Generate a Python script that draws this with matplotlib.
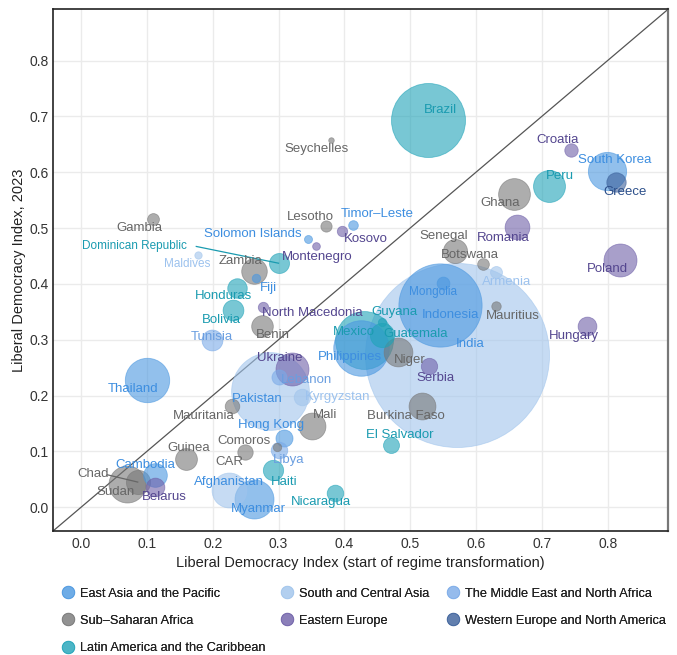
import numpy as np
import matplotlib
matplotlib.use("Agg")
from matplotlib import pyplot as plt
from matplotlib.lines import Line2D
from matplotlib.colors import to_rgba

plt.rcParams['font.family'] = ['Liberation Sans', 'DejaVu Sans']

# regions, in legend order
regions = ['East Asia and the Pacific', 'South and Central Asia', 'The Middle East and North Africa',
           'Sub\u2013Saharan Africa', 'Eastern Europe', 'Western Europe and North America',
           'Latin America and the Caribbean']
region_fill = ['#4a97e0', '#a0c4ec', '#7aaae8', '#777777', '#6e5fa8', '#3a5f9a', '#1fa3b8']
region_text = ['#3d8ee0', '#9cc2ee', '#6a9ee0', '#666666', '#54468f', '#2c4f8a', '#1a9bb0']

# country data: region index, LDI at start, LDI 2023, population (millions)
countries = ['Brazil', 'Seychelles', 'Gambia', 'Lesotho', 'Timor\u2013Leste', 'Kosovo', 'Solomon Islands',
             'Montenegro', 'Maldives', 'Dominican Republic', 'Zambia', 'Fiji', 'Honduras', 'Croatia',
             'South Korea', 'Greece', 'Peru', 'Ghana', 'Romania', 'Senegal', 'Botswana', 'Armenia',
             'Poland', 'Mongolia', 'Indonesia', 'India', 'Mauritius', 'Hungary', 'Guyana', 'Guatemala',
             'Mexico', 'Philippines', 'Niger', 'Serbia', 'Burkina Faso', 'El Salvador', 'Nicaragua',
             'Mali', 'Kyrgyzstan', 'Bolivia', 'North Macedonia', 'Benin', 'Tunisia', 'Thailand',
             'Pakistan', 'Ukraine', 'Lebanon', 'Mauritania', 'Hong Kong', 'CAR', 'Comoros', 'Libya',
             'Guinea', 'Cambodia', 'Chad', 'Sudan', 'Belarus', 'Afghanistan', 'Myanmar', 'Haiti']
region_idx = [6, 3, 3, 3, 0, 4, 0,
              4, 1, 6, 3, 0, 6, 4,
              0, 5, 6, 3, 4, 3, 3, 1,
              4, 0, 0, 1, 3, 4, 6, 6,
              6, 0, 3, 4, 3, 6, 6,
              3, 1, 6, 4, 3, 2, 0,
              1, 4, 2, 3, 0, 3, 3, 2,
              3, 0, 3, 3, 4, 1, 0, 6]
ldi_start = [0.527, 0.379, 0.109, 0.372, 0.413, 0.397, 0.345,
             0.357, 0.178, 0.300, 0.263, 0.266, 0.237, 0.744,
             0.799, 0.813, 0.711, 0.657, 0.662, 0.568, 0.610, 0.631,
             0.819, 0.550, 0.546, 0.571, 0.630, 0.769, 0.457, 0.457,
             0.430, 0.426, 0.482, 0.528, 0.518, 0.471, 0.386,
             0.351, 0.336, 0.231, 0.276, 0.275, 0.199, 0.100,
             0.287, 0.321, 0.300, 0.229, 0.309, 0.249, 0.298, 0.300,
             0.160, 0.112, 0.086, 0.069, 0.112, 0.224, 0.262, 0.291]
ldi_2023 = [0.693, 0.658, 0.516, 0.503, 0.506, 0.494, 0.481,
            0.467, 0.452, 0.437, 0.423, 0.410, 0.393, 0.639,
            0.603, 0.583, 0.576, 0.561, 0.501, 0.459, 0.435, 0.422,
            0.443, 0.401, 0.362, 0.272, 0.360, 0.324, 0.332, 0.308,
            0.299, 0.285, 0.278, 0.252, 0.181, 0.111, 0.026,
            0.146, 0.197, 0.353, 0.358, 0.325, 0.300, 0.227,
            0.209, 0.248, 0.234, 0.182, 0.124, 0.099, 0.108, 0.102,
            0.087, 0.057, 0.045, 0.042, 0.036, 0.030, 0.015, 0.066]
population = [216, 0.1, 2.7, 2.3, 1.4, 1.8, 0.7,
              0.6, 0.5, 11.3, 20.5, 0.9, 10.6, 3.9,
              51.7, 10.4, 34.4, 34, 19, 17.8, 2.6, 2.8,
              37, 3.4, 277, 1430, 1.3, 9.6, 0.8, 18,
              128, 117, 27, 6.7, 23, 6.3, 7,
              23, 7, 12.4, 1.8, 13.7, 12.5, 72,
              240, 37, 5.4, 4.9, 7.5, 5.7, 0.85, 6.9,
              14, 17, 18, 48, 9.5, 42, 54, 11.7]

# label placement (data coords)
label_x = [0.546, 0.357, 0.088, 0.348, 0.450, 0.433, 0.261,
           0.358, 0.161, 0.081, 0.242, 0.285, 0.216, 0.724,
           0.810, 0.827, 0.727, 0.637, 0.642, 0.551, 0.590, 0.647,
           0.799, 0.535, 0.561, 0.591, 0.656, 0.748, 0.476, 0.508,
           0.414, 0.409, 0.499, 0.538, 0.494, 0.484, 0.364,
           0.371, 0.389, 0.213, 0.351, 0.291, 0.198, 0.079,
           0.267, 0.302, 0.343, 0.187, 0.288, 0.226, 0.248, 0.315,
           0.164, 0.097, 0.018, 0.053, 0.127, 0.224, 0.269, 0.309]
label_y = [0.711, 0.642, 0.500, 0.520, 0.525, 0.480, 0.489,
           0.449, 0.435, 0.468, 0.441, 0.393, 0.378, 0.657,
           0.622, 0.565, 0.594, 0.545, 0.483, 0.485, 0.452, 0.404,
           0.426, 0.386, 0.344, 0.293, 0.343, 0.306, 0.349, 0.311,
           0.314, 0.269, 0.263, 0.232, 0.163, 0.129, 0.010,
           0.166, 0.197, 0.336, 0.348, 0.308, 0.304, 0.211,
           0.194, 0.267, 0.227, 0.163, 0.148, 0.081, 0.118, 0.084,
           0.106, 0.075, 0.060, 0.027, 0.018, 0.046, -0.004, 0.046]
dark_label = {'Pakistan', 'Afghanistan', 'India'}
small_font = {'Mongolia', 'Maldives', 'Dominican Republic'}
leader = {'Dominican Republic': (0.175, 0.467), 'Chad': (0.040, 0.058)}

fig = plt.figure(figsize=(6.77, 6.55), dpi=100)
ax = fig.add_axes([0.078, 0.189, 0.909, 0.797])

lim = (-0.043, 0.892)
ax.set_xlim(lim)
ax.set_ylim(lim)
ax.plot(lim, lim, color='#555555', lw=0.9, zorder=1)

pop = np.array(population)
r_px = 2 + 2.38 * np.sqrt(pop)
sizes = (2 * r_px * 0.72) ** 2
order = np.argsort(-pop)
for i in order:
    c = region_fill[region_idx[i]]
    ax.scatter(ldi_start[i], ldi_2023[i], s=sizes[i], color=c, alpha=0.6,
               edgecolors=c, linewidths=0.6, zorder=2)

for i, name in enumerate(countries):
    col = region_text[region_idx[i]]
    if name in dark_label:
        col = region_text[0]
    fs = 8.5 if name in small_font else 9.5
    ax.text(label_x[i], label_y[i], name, color=col, fontsize=fs,
            ha='center', va='center', zorder=4)
    if name in leader:
        lx, ly = leader[name]
        ax.plot([lx, ldi_start[i]], [ly, ldi_2023[i]], color=col, lw=0.9, zorder=3)

ticks = np.arange(0, 0.81, 0.1)
ax.set_xticks(ticks)
ax.set_yticks(ticks)
ax.set_xticklabels([f'{t:.1f}' for t in ticks])
ax.set_yticklabels([f'{t:.1f}' for t in ticks])
ax.tick_params(length=0, labelsize=10, labelcolor='#333333', pad=4)
ax.tick_params(axis='y', pad=3)
ax.grid(True, color='#ebebeb', lw=1.0)
ax.set_axisbelow(True)
for s in ['left', 'bottom', 'top']:
    ax.spines[s].set_color('#222222')
    ax.spines[s].set_linewidth(1.2)
ax.spines['right'].set_color('#777777')
ax.spines['right'].set_linewidth(1.6)

ax.set_xlabel('Liberal Democracy Index (start of regime transformation)', fontsize=10.5, color='#222222', labelpad=4)
ax.set_ylabel('Liberal Democracy Index, 2023', fontsize=10.5, color='#222222', labelpad=2)

# legend: one column legend per column position, filled row by row
leg_cols = [[0, 3, 6], [1, 4], [2, 5]]
col_x = [0.091, 0.415, 0.659]
for cols, x0 in zip(leg_cols, col_x):
    handles = [Line2D([], [], marker='o', ls='', markersize=9,
                      markerfacecolor=to_rgba(region_fill[k], 0.55),
                      markeredgecolor=to_rgba(region_fill[k], 0.7), markeredgewidth=0.6)
               for k in cols]
    leg = fig.legend(handles, [regions[k] for k in cols], ncol=1, loc='upper left',
                     bbox_to_anchor=(x0, 0.103), frameon=False, fontsize=9.2, handletextpad=0.45,
                     labelspacing=1.2, handlelength=1.0, borderpad=0, borderaxespad=0,
                     labelcolor='#222222')
    fig.add_artist(leg)

fig.savefig('out.png', dpi=100)
